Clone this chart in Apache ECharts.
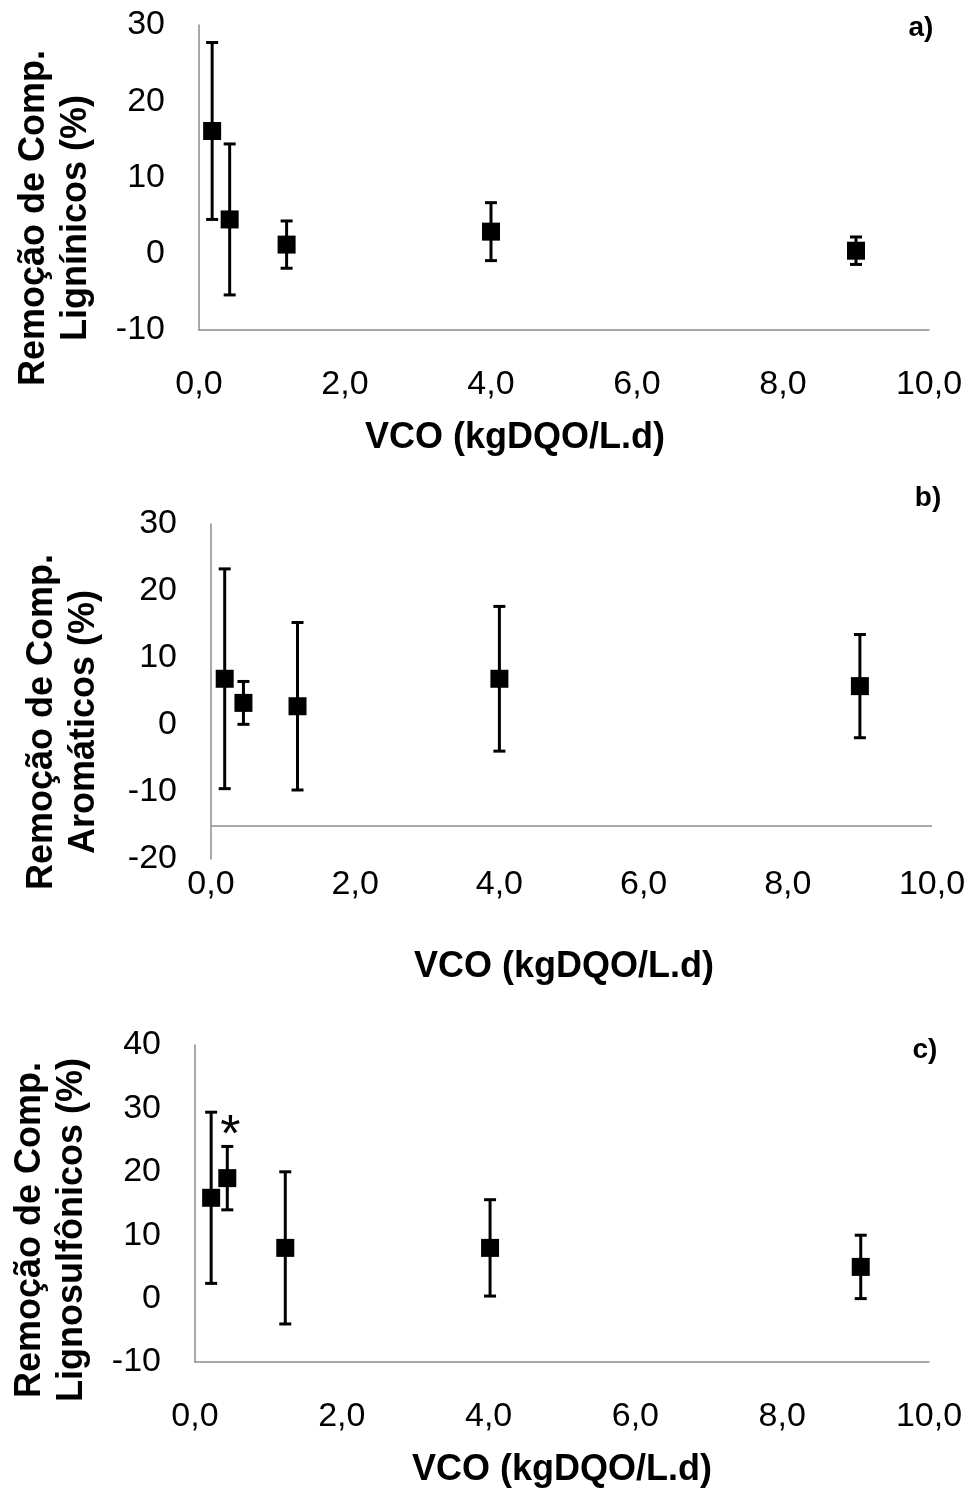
<!DOCTYPE html>
<html>
<head>
<meta charset="utf-8">
<script src="https://cdn.jsdelivr.net/npm/echarts@6/dist/echarts.min.js"></script>
<style>html,body{margin:0;padding:0;background:#fff}#c{width:972px;height:1493px}</style>
</head>
<body>
<div id="c"></div>
<script>
// Panel a) Lignínicos
const xA = [0.18, 0.42, 1.2, 4.0, 9.0];
const yA = [16.1, 4.5, 1.2, 2.9, 0.4];
const eA = [11.6, 9.9, 3.1, 3.8, 1.8];
// Panel b) Aromáticos
const xB = [0.19, 0.45, 1.2, 4.0, 9.0];
const yB = [6.9, 3.3, 2.8, 6.9, 5.8];
const eB = [16.4, 3.2, 12.5, 10.8, 7.7];
// Panel c) Lignosulfônicos
const xC = [0.22, 0.44, 1.23, 4.02, 9.07];
const yC = [15.9, 19.0, 8.0, 8.0, 5.0];
const eC = [13.5, 5.0, 12.0, 7.6, 5.0];
const starIndexC = 1;

const xTicks = ['0,0','2,0','4,0','6,0','8,0','10,0'];
const xTitle = 'VCO (kgDQO/L.d)';
const yTitles = ['Remoção de Comp.\nLignínicos (%)', 'Remoção de Comp.\nAromáticos (%)', 'Remoção de Comp.\nLignosulfônicos (%)'];
const panelLabels = ['a)', 'b)', 'c)'];

const FONT = '"Liberation Sans", Arial, sans-serif';
const AXIS_GRAY = '#8c8c8c';

function errRender(params, api) {
  const x = api.value(0), y = api.value(1), e = api.value(2);
  const t = api.coord([x, y + e]);
  const b = api.coord([x, y - e]);
  const hw = 6;
  const st = {stroke: '#000', lineWidth: 3};
  return {type: 'group', children: [
    {type: 'line', shape: {x1: t[0], y1: t[1], x2: b[0], y2: b[1]}, style: st},
    {type: 'line', shape: {x1: t[0] - hw, y1: t[1], x2: t[0] + hw, y2: t[1]}, style: st},
    {type: 'line', shape: {x1: b[0] - hw, y1: b[1], x2: b[0] + hw, y2: b[1]}, style: st}
  ]};
}

function zip(xs, ys, es) { return xs.map((x, i) => [x, ys[i], es[i]]); }

function xAxisCfg(idx, margin, showLine) {
  return {
    type: 'value', gridIndex: idx, min: 0, max: 10, interval: 2,
    axisLine: {show: showLine, onZero: false, lineStyle: {color: AXIS_GRAY, width: 1.5}},
    axisTick: {show: false}, splitLine: {show: false},
    axisLabel: {margin: margin, fontSize: 34, color: '#000', fontFamily: FONT,
      formatter: v => xTicks[Math.round(v / 2)]}
  };
}
function yAxisCfg(idx, min, max) {
  return {
    type: 'value', gridIndex: idx, min: min, max: max, interval: 10,
    axisLine: {show: true, onZero: false, lineStyle: {color: AXIS_GRAY, width: 1.5}},
    axisTick: {show: false}, splitLine: {show: false},
    axisLabel: {margin: 34, fontSize: 34, color: '#000', fontFamily: FONT}
  };
}

const panels = [
  {xs: xA, ys: yA, es: eA},
  {xs: xB, ys: yB, es: eB},
  {xs: xC, ys: yC, es: eC}
];

const series = [];
panels.forEach((p, i) => {
  series.push({
    type: 'custom', xAxisIndex: i, yAxisIndex: i,
    renderItem: errRender, encode: {x: 0, y: 1},
    data: zip(p.xs, p.ys, p.es), z: 2, silent: true
  });
  const sc = {
    type: 'scatter', xAxisIndex: i, yAxisIndex: i,
    symbol: 'rect', symbolSize: 18, itemStyle: {color: '#000', opacity: 1},
    data: p.xs.map((x, k) => {
      const d = {value: [x, p.ys[k]]};
      if (i === 2 && k === starIndexC) {
        d.label = {show: true, formatter: '*', position: 'top', distance: 6,
          offset: [3, 0], fontSize: 52, color: '#000', fontFamily: FONT};
      }
      return d;
    }),
    z: 3, silent: true
  };
  if (i === 1) {
    sc.markLine = {
      silent: true, symbol: ['none', 'none'], label: {show: false},
      lineStyle: {color: AXIS_GRAY, width: 1.5, type: 'solid'},
      data: [{yAxis: -15}]
    };
  }
  series.push(sc);
});

function yTitle(txt, cx, cy) {
  return {type: 'text', x: cx, y: cy, rotation: Math.PI / 2,
    style: {text: txt, font: 'bold 36px ' + FONT, fill: '#000',
      align: 'center', verticalAlign: 'middle', lineHeight: 42}};
}
function plainText(txt, cx, cy, font) {
  return {type: 'text', x: cx, y: cy,
    style: {text: txt, font: font, fill: '#000', align: 'center', verticalAlign: 'middle'}};
}

const option = {
  animation: false,
  backgroundColor: '#fff',
  grid: [
    {left: 199, top: 25, width: 730, height: 305},
    {left: 211, top: 524, width: 721, height: 335},
    {left: 195, top: 1045, width: 734, height: 317}
  ],
  xAxis: [xAxisCfg(0, 38, true), xAxisCfg(1, 9, false), xAxisCfg(2, 38, true)],
  yAxis: [yAxisCfg(0, -10, 30), yAxisCfg(1, -20, 30), yAxisCfg(2, -10, 40)],
  series: series,
  graphic: [
    yTitle(yTitles[0], 55, 218),
    yTitle(yTitles[1], 63, 722),
    yTitle(yTitles[2], 51, 1230),
    plainText(xTitle, 515, 438, 'bold 36px ' + FONT),
    plainText(xTitle, 564, 967, 'bold 36px ' + FONT),
    plainText(xTitle, 562, 1470, 'bold 36px ' + FONT),
    plainText(panelLabels[0], 921, 28, 'bold 28px ' + FONT),
    plainText(panelLabels[1], 928, 498, 'bold 28px ' + FONT),
    plainText(panelLabels[2], 925, 1050, 'bold 28px ' + FONT)
  ]
};

const chart = echarts.init(document.getElementById('c'), null, {renderer: 'canvas'});
chart.setOption(option);
</script>
</body>
</html>
